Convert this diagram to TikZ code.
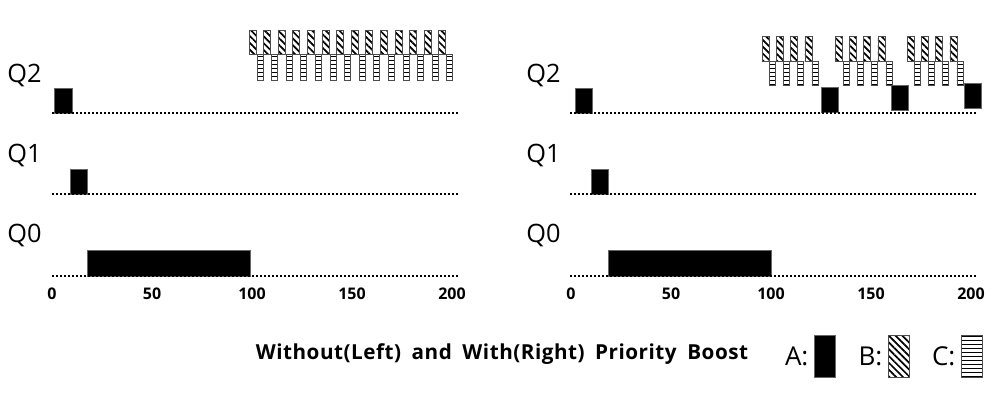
\documentclass[tikz,border=0pt]{standalone}
\usepackage{fontspec}
\setmainfont{Open Sans}
\newfontfamily\wideopen{Open Sans}[LetterSpace=2.5,WordSpace=1.8]
\usepackage{tikz}
\usetikzlibrary{positioning,patterns.meta}
\tikzset{
  job/a/.style={draw=black!60, line width=0.6pt, fill=black},
  job/b/.style={draw=black!70, line width=0.6pt, pattern={Lines[angle=-45,distance=3.6pt,line width=1.3pt]}},
  job/c/.style={draw=black!70, line width=0.6pt, pattern={Lines[angle=0,distance=3pt,line width=0.6pt]}},
  chart/axis/.style={line width=1.5pt, dash pattern=on 1.5pt off 1.5pt},
  chart/queue/.style={font=\fontsize{19}{22}\selectfont, anchor=base west, inner sep=0pt},
  chart/tick/.style={font=\fontsize{12}{14}\selectfont\bfseries, anchor=base, inner sep=0pt},
  chart/title/.style={font=\wideopen\fontsize{15.5}{18}\selectfont\bfseries, anchor=base, inner sep=0pt},
  chart/legbox/.style={minimum width=15.8pt, minimum height=31.5pt, inner sep=0pt, outer sep=0pt, anchor=north west},
  chart/legtext/.style={font=\fontsize{19.5}{22}\selectfont, inner sep=0pt}
}

\begin{document}
\begin{tikzpicture}[x=0.75pt, y=-0.75pt]
\useasboundingbox (0,0) rectangle (1004,404);

% queue labels
\node[chart/queue] (lq2) at (7,82) {Q2};
\node[chart/queue] (lq1) at (7,162) {Q1};
\node[chart/queue] (lq0) at (7,242) {Q0};
\node[chart/queue] (rq2) at (526,82) {Q2};
\node[chart/queue] (rq1) at (526,162) {Q1};
\node[chart/queue] (rq0) at (526,242) {Q0};

% left: without boost
\draw[job/a] (54,88) rectangle (72,113);
\draw[job/a] (70,169) rectangle (87,194);
\draw[job/a] (87,250) rectangle (250,276);
\foreach \i in {0,...,13} {
  \draw[job/b] ({249+14.6*\i},30) rectangle +(7,24);
  \draw[job/c] ({257+14.6*\i},54) rectangle +(6,26);
}
\foreach \y in {113,194,276}
  \draw[chart/axis] (52,\y) -- (460,\y);
\foreach \v in {0,50,...,200}
  \node[chart/tick] (tl\v) at ({52+2*\v},299) {\v};

% right: with boost
\draw[job/a] (575,88) rectangle (592,113);
\draw[job/a] (591,169) rectangle (608,194);
\draw[job/a] (608,250) rectangle (771,276);
\draw[job/a] (821,87) rectangle (838,112);
\draw[job/a] (891,85) rectangle (908,110);
\draw[job/a] (964,83) rectangle (981,108);
\foreach \g in {762,835,907}
  \foreach \i in {0,...,3} {
    \draw[job/b] ({\g+14.3*\i},36) rectangle +(7,25);
  }
\foreach \g in {769,843,914}
  \foreach \i in {0,...,3} {
    \draw[job/c] ({\g+14.3*\i},61) rectangle +(6,24);
  }
\foreach \y in {113,194,276}
  \draw[chart/axis] (570,\y) -- (978,\y);
\foreach \v in {0,50,...,200}
  \node[chart/tick] (tr\v) at ({571+2*\v},299) {\v};

% caption and legend
\node[chart/title] (title) at (502,359) {Without(Left) and With(Right) Priority Boost};
\node[chart/legbox, job/a] (legA) at (814,335) {};
\node[chart/legbox, job/b] (legB) at (888,335) {};
\node[chart/legbox, job/c] (legC) at (961,335) {};
\node[chart/legtext, left=4pt of legA] (txtA) {A:};
\node[chart/legtext, left=4pt of legB] (txtB) {B:};
\node[chart/legtext, left=4pt of legC] (txtC) {C:};
\end{tikzpicture}
\end{document}
